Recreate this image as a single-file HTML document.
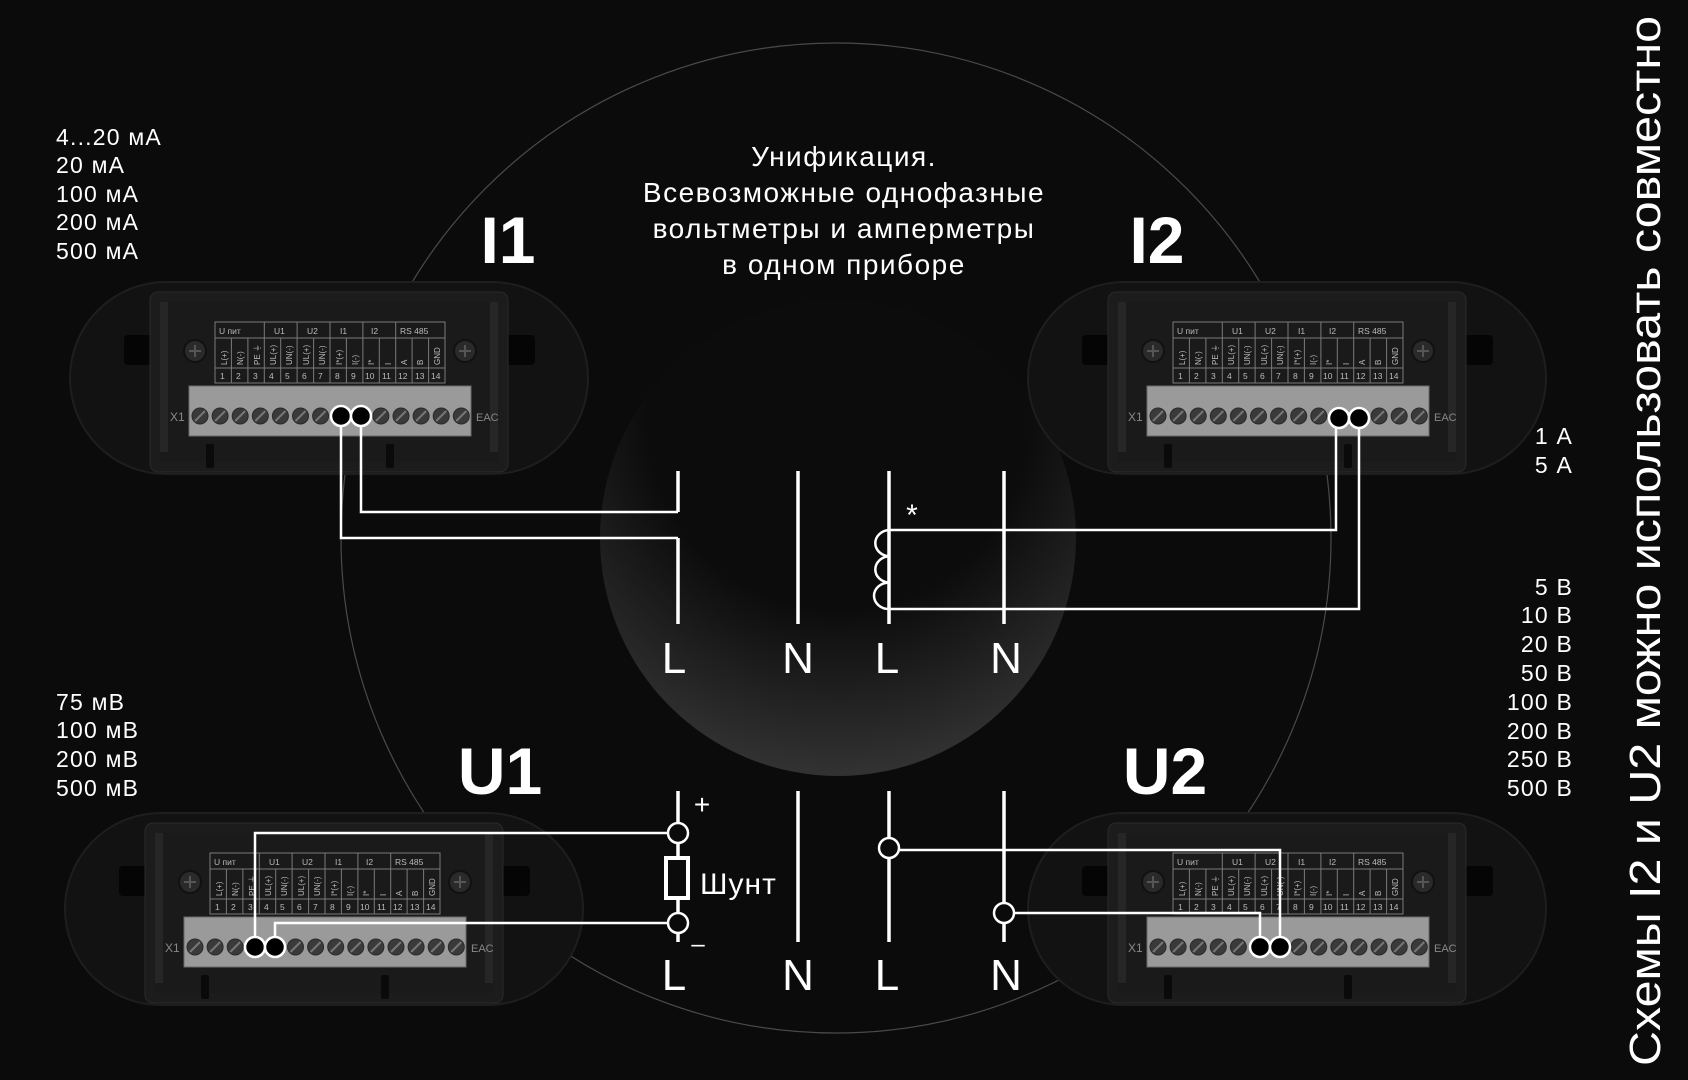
<!DOCTYPE html>
<html><head><meta charset="utf-8"><style>
html,body{margin:0;padding:0;background:#0b0b0b;}
svg{display:block}
text{font-family:"Liberation Sans","DejaVu Sans",sans-serif;fill:#fff}
</style></head><body>
<svg width="1688" height="1080" viewBox="0 0 1688 1080" xmlns="http://www.w3.org/2000/svg">
<defs>
<radialGradient id="ig" cx="0.5" cy="0.25" r="0.8">
<stop offset="0.5" stop-color="#0c0c0c"/><stop offset="1" stop-color="#383838"/>
</radialGradient>
<g id="sc"><circle r="8" fill="#3a3a3a" stroke="#2a2a2a"/><path d="M-5 5L5 -5" stroke="#777" stroke-width="2"/></g>
<g id="dev">
<rect x="0" y="0" width="518" height="192" rx="96" fill="#121212" stroke="#1e1e1e" stroke-width="2"/>
<rect x="54" y="53" width="86" height="30" rx="4" fill="#050505"/>
<rect x="383" y="53" width="82" height="30" rx="4" fill="#050505"/>
<rect x="80" y="10" width="358" height="180" rx="8" fill="#1c1c1c" stroke="#2a2a2a"/>
<rect x="90" y="20" width="338" height="160" fill="#1a1a1a"/>
<rect x="90" y="20" width="8" height="150" fill="#262626"/>
<rect x="420" y="20" width="8" height="150" fill="#262626"/>
<circle cx="125" cy="69" r="11" fill="#2a2a2a" stroke="#111" stroke-width="2"/>
<path d="M119 69h12M125 63v12" stroke="#555" stroke-width="2"/>
<circle cx="395" cy="69" r="11" fill="#2a2a2a" stroke="#111" stroke-width="2"/>
<path d="M389 69h12M395 63v12" stroke="#555" stroke-width="2"/>
<g stroke="#7a7a7a" stroke-width="1" fill="none">
<rect x="145" y="40" width="230" height="61"/>
<path d="M145 56h230M145 86h230"/>
<path d="M161.4 56v45M177.9 56v45M194.3 40v61M210.7 56v45M227.1 40v61M243.6 56v45M260 40v61M276.4 56v45M292.9 40v61M309.3 56v45M325.7 40v61M342.1 56v45M358.6 56v45"/>
</g>
<g font-size="8.5" style="fill:#bbb">
<text x="149" y="52" style="fill:#bbb">U пит</text><text x="204" y="52" style="fill:#bbb">U1</text><text x="237" y="52" style="fill:#bbb">U2</text><text x="270" y="52" style="fill:#bbb">I1</text><text x="301" y="52" style="fill:#bbb">I2</text><text x="330" y="52" style="fill:#bbb">RS 485</text>
<text x="150" y="97" style="fill:#bbb">1</text><text x="166" y="97" style="fill:#bbb">2</text><text x="183" y="97" style="fill:#bbb">3</text><text x="199" y="97" style="fill:#bbb">4</text><text x="215" y="97" style="fill:#bbb">5</text><text x="232" y="97" style="fill:#bbb">6</text><text x="248" y="97" style="fill:#bbb">7</text><text x="265" y="97" style="fill:#bbb">8</text><text x="281" y="97" style="fill:#bbb">9</text><text x="295" y="97" style="fill:#bbb">10</text><text x="312" y="97" style="fill:#bbb">11</text><text x="328" y="97" style="fill:#bbb">12</text><text x="345" y="97" style="fill:#bbb">13</text><text x="361" y="97" style="fill:#bbb">14</text>
</g>
<g font-size="8" transform="rotate(-90)">
<text x="-83" y="157" style="fill:#bbb">L(+)</text><text x="-83" y="173" style="fill:#bbb">N(-)</text><text x="-83" y="190" style="fill:#bbb">PE ⏚</text><text x="-83" y="206" style="fill:#bbb">UL(+)</text><text x="-83" y="222" style="fill:#bbb">UN(-)</text><text x="-83" y="239" style="fill:#bbb">UL(+)</text><text x="-83" y="255" style="fill:#bbb">UN(-)</text><text x="-83" y="272" style="fill:#bbb">I*(+)</text><text x="-83" y="288" style="fill:#bbb">I(-)</text><text x="-83" y="304" style="fill:#bbb">I*</text><text x="-83" y="321" style="fill:#bbb">I</text><text x="-83" y="337" style="fill:#bbb">A</text><text x="-83" y="353" style="fill:#bbb">B</text><text x="-83" y="370" style="fill:#bbb">GND</text>
</g>
<rect x="119" y="104" width="282" height="50" fill="#9a9a9a" stroke="#6a6a6a"/>
<text x="100" y="139" font-size="12" style="fill:#888">X1</text>
<text x="406" y="139" font-size="11" style="fill:#888">EAC</text>
<use href="#sc" x="130" y="134"/><use href="#sc" x="150.1" y="134"/><use href="#sc" x="170.2" y="134"/><use href="#sc" x="190.3" y="134"/><use href="#sc" x="210.4" y="134"/><use href="#sc" x="230.5" y="134"/><use href="#sc" x="250.6" y="134"/><use href="#sc" x="270.7" y="134"/><use href="#sc" x="290.8" y="134"/><use href="#sc" x="310.9" y="134"/><use href="#sc" x="331" y="134"/><use href="#sc" x="351.1" y="134"/><use href="#sc" x="371.2" y="134"/><use href="#sc" x="391.3" y="134"/>
<rect x="136" y="162" width="8" height="24" rx="2" fill="#0a0a0a"/>
<rect x="316" y="162" width="8" height="24" rx="2" fill="#0a0a0a"/>
</g>
</defs>

<circle cx="836" cy="538" r="495" fill="none" stroke="#4a4a4a" stroke-width="1.2"/>
<circle cx="838" cy="538" r="238" fill="url(#ig)"/>

<use href="#dev" x="70" y="282"/>
<use href="#dev" x="1028" y="282"/>
<use href="#dev" x="65" y="813"/>
<use href="#dev" x="1028" y="813"/>

<g font-size="66" font-weight="bold">
<text x="508" y="263" text-anchor="middle">I1</text>
<text x="1157" y="263" text-anchor="middle">I2</text>
<text x="500" y="794" text-anchor="middle">U1</text>
<text x="1165" y="794" text-anchor="middle">U2</text>
</g>

<g font-size="28" text-anchor="middle" letter-spacing="1.5">
<text x="844" y="166">Унификация.</text>
<text x="844" y="202">Всевозможные однофазные</text>
<text x="844" y="238">вольтметры и амперметры</text>
<text x="844" y="274">в одном приборе</text>
</g>

<g font-size="23" letter-spacing="1.2">
<text x="56" y="145">4...20 мА</text><text x="56" y="173">20 мА</text><text x="56" y="202">100 мА</text><text x="56" y="230">200 мА</text><text x="56" y="259">500 мА</text>
<text x="56" y="710">75 мВ</text><text x="56" y="738">100 мВ</text><text x="56" y="767">200 мВ</text><text x="56" y="796">500 мВ</text>
</g>
<g font-size="23" text-anchor="end" letter-spacing="1.2">
<text x="1573" y="444">1 А</text><text x="1573" y="473">5 А</text>
<text x="1573" y="595">5 В</text><text x="1573" y="623">10 В</text><text x="1573" y="652">20 В</text><text x="1573" y="681">50 В</text><text x="1573" y="710">100 В</text><text x="1573" y="739">200 В</text><text x="1573" y="767">250 В</text><text x="1573" y="796">500 В</text>
</g>

<text transform="translate(1660,1066) rotate(-90)" font-size="44" textLength="1050" lengthAdjust="spacingAndGlyphs">Схемы I2 и U2 можно использовать совместно</text>

<g stroke="#fff" stroke-width="3.5" fill="none">
<path d="M678 471V512M678 538V624M798 471V624M889 471V624M1004 471V624"/>
<path d="M678 791V942M798 791V942M889 791V942M1004 791V942"/>
</g>
<g stroke="#fff" stroke-width="2.5" fill="none">
<path d="M361 416V512H678M341 416V538H678"/>
<path d="M889 530H1336V418M889 609H1359V418"/>
<path d="M889 530a15 13.2 0 0 0 0 26.3a15 13.2 0 0 0 0 26.3a15 13.2 0 0 0 0 26.4"/>
<path d="M255 947V833H678M275 947V923H678"/>
<path d="M1280 947V850H889M1260 947V913H1004"/>
</g>
<rect x="666" y="858" width="22" height="40" fill="#0b0b0b" stroke="#fff" stroke-width="4"/>
<g fill="#000" stroke="#fff" stroke-width="2.5">
<circle cx="341" cy="416" r="10"/><circle cx="361" cy="416" r="10"/>
<circle cx="1339" cy="418" r="10"/><circle cx="1359" cy="418" r="10"/>
<circle cx="255" cy="947" r="10"/><circle cx="275" cy="947" r="10"/>
<circle cx="1260" cy="947" r="10"/><circle cx="1280" cy="947" r="10"/>
</g>
<g fill="#0b0b0b" stroke="#fff" stroke-width="2.5">
<circle cx="678" cy="833" r="10"/><circle cx="678" cy="923" r="10"/>
<circle cx="889" cy="848" r="10"/><circle cx="1004" cy="913" r="10"/>
</g>
<text x="912" y="525" font-size="30" text-anchor="middle">*</text>
<text x="702" y="814" font-size="28" text-anchor="middle">+</text>
<text x="698" y="952" font-size="24" text-anchor="middle">–</text>
<text x="700" y="894" font-size="30" letter-spacing="1">Шунт</text>
<g font-size="44" text-anchor="middle">
<text x="674" y="673">L</text><text x="798" y="673">N</text><text x="887" y="673">L</text><text x="1006" y="673">N</text>
<text x="674" y="990">L</text><text x="798" y="990">N</text><text x="887" y="990">L</text><text x="1006" y="990">N</text>
</g>
</svg>
</body></html>
